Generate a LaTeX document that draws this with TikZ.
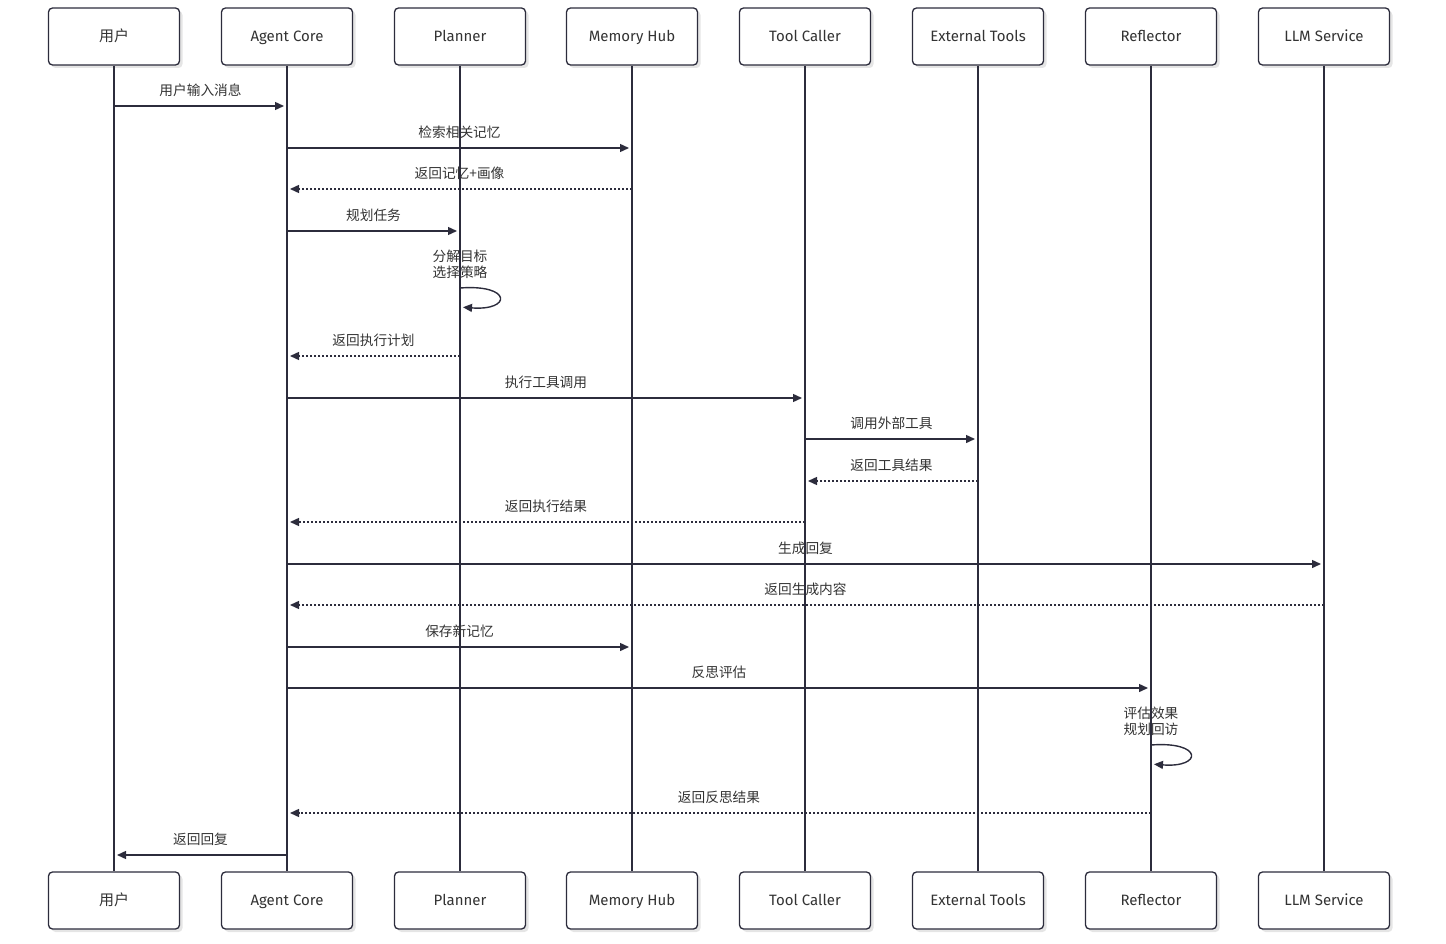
\documentclass[tikz,border=0pt]{standalone}
\usepackage{fontspec}
\setmainfont{Fira Sans}
\newfontfamily\cjk{Noto Sans CJK SC}
\usetikzlibrary{arrows.meta,shadows}
\definecolor{linec}{RGB}{44,44,60}
\definecolor{textc}{RGB}{51,51,51}
\tikzset{
  actor/.style={draw=linec, line width=1.3pt, fill=white, rounded corners=4pt,
    minimum width=131pt, minimum height=57pt, inner sep=0pt, text=textc,
    font=\fontsize{15}{18}\selectfont, text height=13.5pt, text depth=3pt,
    drop shadow={shadow xshift=3pt, shadow yshift=-3pt, fill=black, opacity=0.10}},
  life/.style={draw=linec, line width=1.5pt},
  msg/.style={draw=linec, line width=1.4pt, -{Triangle[length=9pt,width=8pt]}, shorten >=3pt},
  ret/.style={msg, dash pattern=on 2pt off 2pt},
  lbl/.style={text=textc, font=\cjk\fontsize{13.7}{16}\selectfont, inner sep=0pt, yshift=16pt},
  looplbl/.style={text=textc, font=\cjk\fontsize{13.7}{16}\selectfont, inner sep=0pt, align=left},
}
\begin{document}
\begin{tikzpicture}[x=1pt,y=-1pt]
\useasboundingbox (0,0) rectangle (1446,944);
% top actors
\node[actor] (u)  at (114,36.5) {\cjk 用户};
\node[actor] (ac) at (287,36.5) {Agent Core};
\node[actor] (pl) at (460,36.5) {Planner};
\node[actor] (mh) at (632,36.5) {Memory Hub};
\node[actor] (tc) at (805,36.5) {Tool Caller};
\node[actor] (et) at (978,36.5) {External Tools};
\node[actor] (rf) at (1151,36.5) {Reflector};
\node[actor] (lm) at (1324,36.5) {LLM Service};
% bottom actors
\node[actor] (u2)  at (114,900.5) {\cjk 用户};
\node[actor] (ac2) at (287,900.5) {Agent Core};
\node[actor] (pl2) at (460,900.5) {Planner};
\node[actor] (mh2) at (632,900.5) {Memory Hub};
\node[actor] (tc2) at (805,900.5) {Tool Caller};
\node[actor] (et2) at (978,900.5) {External Tools};
\node[actor] (rf2) at (1151,900.5) {Reflector};
\node[actor] (lm2) at (1324,900.5) {LLM Service};
% lifelines
\foreach \a in {u,ac,pl,mh,tc,et,rf,lm}{
  \draw[life] (\a.south) -- (\a2.north);
}
% messages
\draw[msg] (u.south |- 0,106) -- node[lbl]{用户输入消息} (ac.south |- 0,106);
\draw[msg] (ac.south |- 0,148) -- node[lbl]{检索相关记忆} (mh.south |- 0,148);
\draw[ret] (mh.south |- 0,189) -- node[lbl]{返回记忆+画像} (ac.south |- 0,189);
\draw[msg] (ac.south |- 0,231) -- node[lbl]{规划任务} (pl.south |- 0,231);
% self loop planner
\node[looplbl] (pll) at (460,264) {分解目标\\选择策略};
\coordinate (pla) at (pl.south |- 0,288);
\coordinate (plb) at (pl.south |- 0,307);
\draw[msg] (pla) .. controls (512,284) and (512,311) .. (plb);
\draw[ret] (pl.south |- 0,356) -- node[lbl]{返回执行计划} (ac.south |- 0,356);
\draw[msg] (ac.south |- 0,398) -- node[lbl]{执行工具调用} (tc.south |- 0,398);
\draw[msg] (tc.south |- 0,439) -- node[lbl]{调用外部工具} (et.south |- 0,439);
\draw[ret] (et.south |- 0,481) -- node[lbl]{返回工具结果} (tc.south |- 0,481);
\draw[ret] (tc.south |- 0,522) -- node[lbl]{返回执行结果} (ac.south |- 0,522);
\draw[msg] (ac.south |- 0,564) -- node[lbl]{生成回复} (lm.south |- 0,564);
\draw[ret] (lm.south |- 0,605) -- node[lbl]{返回生成内容} (ac.south |- 0,605);
\draw[msg] (ac.south |- 0,647) -- node[lbl]{保存新记忆} (mh.south |- 0,647);
\draw[msg] (ac.south |- 0,688) -- node[lbl]{反思评估} (rf.south |- 0,688);
% self loop reflector
\node[looplbl] (rfl) at (1151,721) {评估效果\\规划回访};
\coordinate (rfa) at (rf.south |- 0,745);
\coordinate (rfb) at (rf.south |- 0,764);
\draw[msg] (rfa) .. controls (1203,741) and (1203,768) .. (rfb);
\draw[ret] (rf.south |- 0,813) -- node[lbl]{返回反思结果} (ac.south |- 0,813);
\draw[msg] (ac.south |- 0,855) -- node[lbl]{返回回复} (u.south |- 0,855);
\end{tikzpicture}
\end{document}
